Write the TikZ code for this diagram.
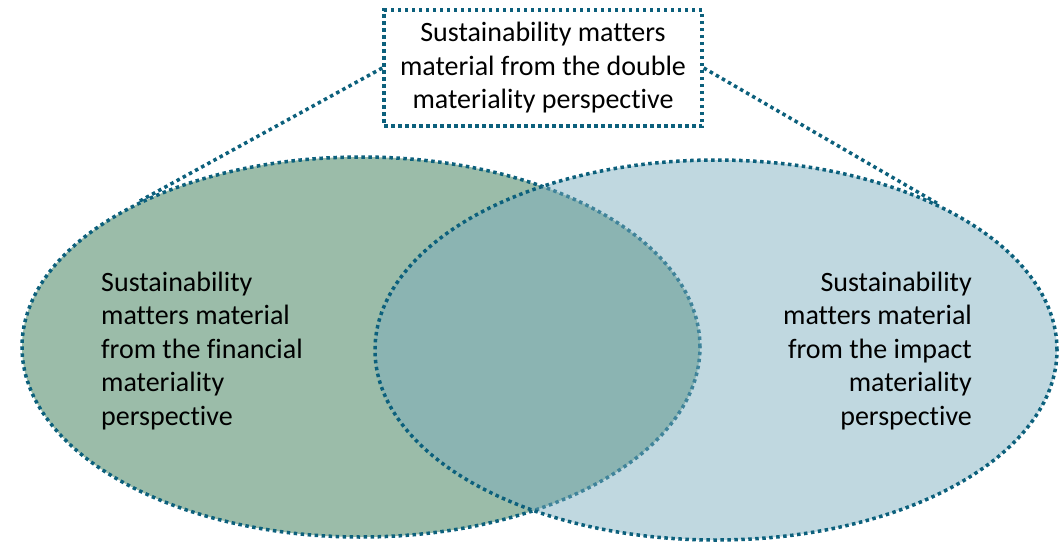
\documentclass[tikz,border=0pt]{standalone}
\usepackage{fontspec}
\setmainfont{Carlito}[Ligatures=NoCommon]
\usetikzlibrary{shapes.geometric}
\definecolor{dotteal}{RGB}{12,96,124}
\definecolor{fingreen}{RGB}{155,188,169}
\definecolor{impblue}{RGB}{121,172,189}

\begin{document}
\begin{tikzpicture}[x=1pt,y=-1pt,
	dots/.style={draw=dotteal,line width=3.5pt,dash pattern=on 3.5pt off 3.5pt},
	circle set/.style={ellipse,dots,minimum width=#1,minimum height=380pt,inner sep=0pt},
	label text/.style={font=\fontsize{28}{33.5}\selectfont,inner sep=0pt}]
	\useasboundingbox (0,0) rectangle (1063,541);

	% the two perspectives
	\node (fin) [circle set=678pt,fill=fingreen] at (361,347) {};
	\node (imp) [circle set=682pt,fill=impblue,fill opacity=0.47] at (716,350) {};
	\node (fintext) [label text,align=left,anchor=west] at (101,351) {Sustainability\\matters material\\from the financial\\materiality\\perspective};
	\node (imptext) [label text,align=right,anchor=east] at (972,351) {Sustainability\\matters material\\from the impact\\materiality\\perspective};

	% double materiality box
	\node (double) [dots,fill=white,label text,align=center,minimum width=318pt,minimum height=116pt] at (543,68) {Sustainability matters\\material from the double\\materiality perspective};
	\draw[dots] (double.west) -- (fin.147);
	\draw[dots] (double.east) -- (imp.33);
\end{tikzpicture}
\end{document}
